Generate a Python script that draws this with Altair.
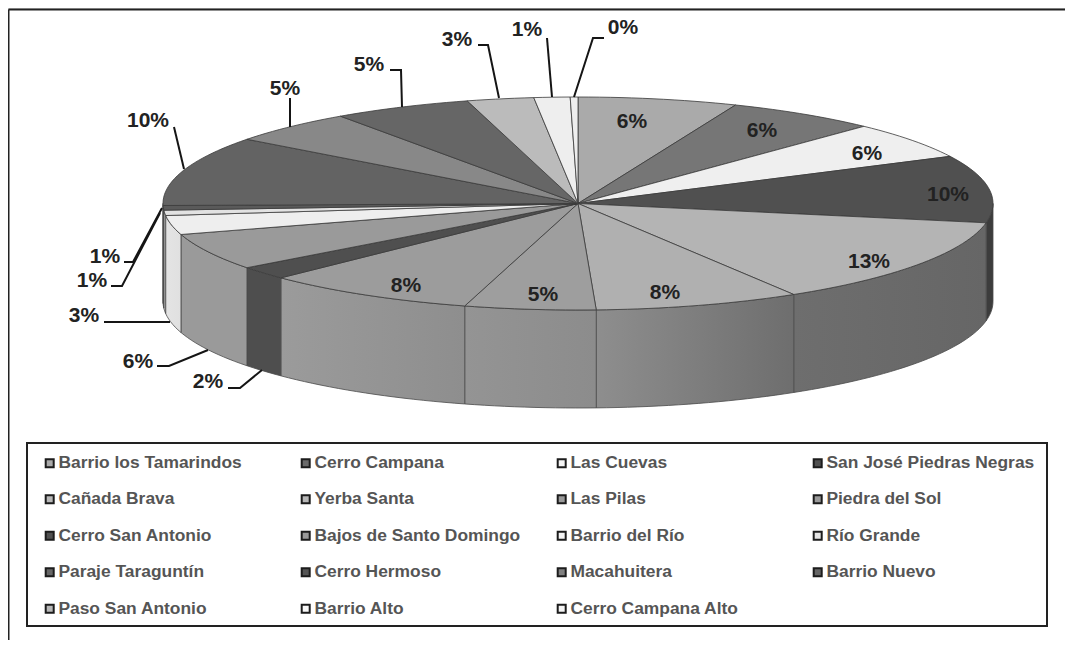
import math
import altair as alt
import pandas as pd

# ---- chart values ----
places = ["Barrio los Tamarindos", "Cerro Campana", "Las Cuevas", "San José Piedras Negras",
          "Cañada Brava", "Yerba Santa", "Las Pilas", "Piedra del Sol",
          "Cerro San Antonio", "Bajos de Santo Domingo", "Barrio del Río", "Río Grande",
          "Paraje Taraguntín", "Cerro Hermoso", "Macahuitera", "Barrio Nuevo",
          "Paso San Antonio", "Barrio Alto", "Cerro Campana Alto"]
shares = [6.2, 5.9, 5.6, 10.2, 13.4, 8.0, 5.1, 8.3, 2.0, 5.6, 2.9, 0.8, 0.7, 10.6, 5.0, 5.4, 2.6, 1.4, 0.3]
pct_labels = ["6%", "6%", "6%", "10%", "13%", "8%", "5%", "8%", "2%", "6%", "3%", "1%", "1%",
              "10%", "5%", "5%", "3%", "1%", "0%"]
top_colors = ["#aaaaaa", "#767676", "#efefef", "#505050", "#b4b4b4", "#b0b0b0", "#9e9e9e", "#9c9c9c",
              "#4f4f4f", "#9a9a9a", "#eeeeee", "#e2e2e2", "#5a5a5a", "#636363", "#888888", "#666666",
              "#bbbbbb", "#eeeeee", "#eeeeee"]
symbol_colors = ["#aaaaaa", "#6a6a6a", "#f4f4f4", "#505050", "#b8b8b8", "#b8b8b8", "#9a9a9a", "#9a9a9a",
                 "#505050", "#9a9a9a", "#f4f4f4", "#e4e4e4", "#666666", "#555555", "#808080", "#666666",
                 "#b8b8b8", "#f8f8f8", "#f4f4f4"]
wall_left = ["#999999", "#777777", "#dddddd", "#3c3c3c", "#6e6e6e", "#8e8e8e", "#949494", "#9b9b9b",
             "#4e4e4e", "#9a9a9a", "#e4e4e4", "#c8c8c8", "#555555", "#555555", "#777777", "#555555",
             "#aaaaaa", "#dddddd", "#dddddd"]
wall_right = ["#999999", "#777777", "#dddddd", "#3c3c3c", "#666666", "#6e6e6e", "#8c8c8c", "#8e8e8e",
              "#4e4e4e", "#9a9a9a", "#e0e0e0", "#c8c8c8", "#555555", "#555555", "#777777", "#555555",
              "#aaaaaa", "#dddddd", "#dddddd"]

# ---- layout of the drawing, in page pixels ----
PAGE_W, PAGE_H = 1065, 640
CX, CY, RX, RY, DEPTH = 578, 203.5, 415, 106.5, 98

label_spots = [(632, 120), (762, 129), (867, 152), (948, 193), (869, 260), (665, 291), (543, 293),
               (406, 284), (208, 380), (138, 360), (84, 314), (92, 279), (105, 255), (148, 119),
               (285, 87), (369, 63), (457, 38), (527, 28), (623, 26)]
leaders = [
    [(174, 127), (184, 169)],
    [(290, 98), (290, 127)],
    [(390, 70), (401, 70), (402, 107)],
    [(478, 45), (488, 45), (499, 98)],
    [(547, 38), (552, 97)],
    [(604, 38), (593, 38), (574, 97)],
    [(124, 262), (133, 262), (162, 208)],
    [(111, 286), (122, 286), (160, 213)],
    [(104, 322), (170, 322)],
    [(157, 366), (169, 366), (208, 350)],
    [(228, 388), (240, 388), (262, 370)],
]

X = alt.Scale(domain=[8, PAGE_W], range=[0, PAGE_W - 8])
Y = alt.Scale(domain=[8, PAGE_H], range=[0, PAGE_H - 8])
x = lambda f: alt.X(f, type="quantitative", scale=X, axis=None)
y = lambda f: alt.Y(f, type="quantitative", scale=Y, axis=None)


def rim(deg):
    t = math.radians(deg)
    return CX + RX * math.sin(t), CY - RY * math.cos(t)


total = sum(shares)
edges = [0.0]
for s in shares:
    edges.append(edges[-1] + s / total * 360)

# top face: one closed wedge for each place
rows = []
for i, name in enumerate(places):
    a, b = edges[i], edges[i + 1]
    n = max(2, int((b - a) / 1.5) + 1)
    rows.append({"place": name, "o": 0, "px": CX, "py": CY})
    for k in range(n + 1):
        px, py = rim(a + (b - a) * k / n)
        rows.append({"place": name, "o": k + 1, "px": px, "py": py})
    rows.append({"place": name, "o": n + 2, "px": CX, "py": CY})
top = alt.Chart(pd.DataFrame(rows)).mark_line(stroke="#3a3a3a", strokeWidth=0.8).encode(
    x=x("px"), y=y("py"), order=alt.Order("o:Q"),
    fill=alt.Fill("place:N",
                  scale=alt.Scale(domain=places, range=top_colors),
                  legend=None),
)

# side wall: the part of each slice on the front half of the rim
walls = []
for i, name in enumerate(places):
    a, b = max(edges[i], 90), min(edges[i + 1], 270)
    if b <= a:
        continue
    n = max(2, int((b - a) / 1.5) + 1)
    seg = []
    for k in range(n + 1):
        px, py = rim(a + (b - a) * k / n)
        seg.append({"px": px, "py": py, "py2": py + DEPTH})
    walls.append(alt.Chart(pd.DataFrame(seg)).mark_area(
        color=alt.Gradient(gradient="linear", x1=0, x2=1, y1=0, y2=0,
                           stops=[alt.GradientStop(color=wall_left[i], offset=0),
                                  alt.GradientStop(color=wall_right[i], offset=1)]),
        stroke="#4a4a4a", strokeWidth=0.8,
    ).encode(x=x("px"), y=y("py"), y2="py2:Q"))

# leader lines
lead_rows = [{"id": i, "o": k, "px": p[0], "py": p[1]} for i, l in enumerate(leaders) for k, p in enumerate(l)]
lead = alt.Chart(pd.DataFrame(lead_rows)).mark_line(color="#151515", strokeWidth=2).encode(
    x=x("px"), y=y("py"), detail="id:N", order=alt.Order("o:Q"))

# percentage labels
lab_df = pd.DataFrame({"t": pct_labels, "px": [p[0] for p in label_spots], "py": [p[1] for p in label_spots]})
labels = alt.Chart(lab_df).mark_text(font="Liberation Sans", fontWeight="bold", fontSize=21, dy=1.5,
                                     color="#222222", align="center", baseline="middle").encode(
    x=x("px"), y=y("py"), text="t:N")

# frames
frame_df = pd.DataFrame({"x0": [8.5], "y0": [9.5]})
outer = alt.Chart(frame_df).mark_rule(color="#222222", strokeWidth=2).encode(
    x=x("x0"), y=y("y0"), y2=alt.Y2(datum=PAGE_H))
outer_top = alt.Chart(frame_df).mark_rule(color="#222222", strokeWidth=2).encode(
    x=x("x0"), x2=alt.X2(datum=PAGE_W), y=y("y0"))
box_df = pd.DataFrame({"x0": [27], "x1": [1047], "y0": [443], "y1": [626]})
box = alt.Chart(box_df).mark_rect(fillOpacity=0, stroke="#222222", strokeWidth=2).encode(
    x=x("x0"), x2="x1:Q", y=y("y0"), y2="y1:Q")

# legend, carried by invisible points
leg_df = pd.DataFrame({"place": places, "px": [CX] * 19, "py": [CY] * 19})
legend_layer = alt.Chart(leg_df).mark_point(opacity=0, filled=True).encode(
    x=x("px"), y=y("py"),
    color=alt.Color("place:N", scale=alt.Scale(domain=places, range=symbol_colors),
                    sort=places,
                    legend=alt.Legend(
                        title=None, orient="none", legendX=33, legendY=446, columns=4,
                        direction="horizontal", gridAlign="all", symbolType="square",
                        symbolSize=64, symbolOpacity=1, symbolStrokeColor="#1c1c1c", symbolStrokeWidth=2,
                        labelFont="Liberation Sans", labelFontWeight="bold", labelFontSize=17.4,
                        labelColor="#555555", labelOpacity=1, labelOffset=0, labelLimit=300,
                        columnPadding=30, rowPadding=17.5, symbolLimit=0)),
)

chart = alt.layer(outer, outer_top, box, *walls, top, lead, labels, legend_layer).resolve_scale(
    fill="independent"
).properties(
    width=PAGE_W - 8, height=PAGE_H - 8, padding=0,
    autosize=alt.AutoSizeParams(type="none"),
).configure_view(stroke=None).configure(background="white")

chart.save("out.html", embed_options={"renderer": "svg", "actions": False})
